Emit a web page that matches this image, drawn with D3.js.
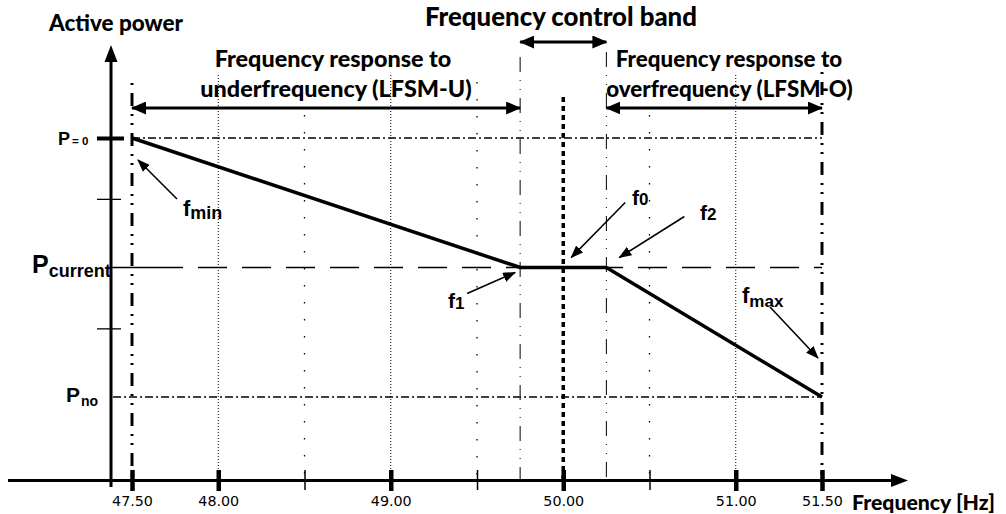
<!DOCTYPE html>
<html><head><meta charset="utf-8">
<script src="https://cdn.jsdelivr.net/npm/d3@7"></script>
<style>
html,body{margin:0;padding:0;background:#fff;}
svg{display:block;}
</style></head>
<body><svg id="chart" width="1006" height="514"></svg>
<script>
// ---------- data ----------
const freqMajor = [47.5, 48, 49, 50, 51, 51.5];
const freqMajorLabels = ["47.50", "48.00", "49.00", "50.00", "51.00", "51.50"];
const freqMinor = [48.5, 49.5, 50.5];
const freqDotted = [48, 49, 51];
const bandEdges = [49.75, 50.25];
const rangeEdges = [47.5, 51.5];
const nominalFreq = [50];
const curveFreq = [47.5, 49.75, 50.25, 51.5];
const curvePower = [2, 1, 1, 0];
const powerLevels = [2, 1, 0];          // P=0, Pcurrent, Pno
const powerMinor = [1.53, 0.53];
const pLabels = [["P", "= 0"], ["P", "current"], ["P", "no"]];

// ---------- layout ----------
const svg = d3.select("#chart");
const x = d3.scaleLinear().domain([47.5, 51.5]).range([132, 822]);
const y = d3.scaleLinear().domain([0, 2]).range([397, 138]);
const axisY = 480.5, yAxisX = 111;
const headFont = "Lato, 'Open Sans', sans-serif";
const armFont = "'Liberation Sans', Arial, sans-serif";
const narrowFont = "'Liberation Sans Narrow', 'Arial Narrow', 'Liberation Sans', sans-serif";

const defs = svg.append("defs");
defs.append("marker").attr("id", "big").attr("viewBox", "0 0 15 13")
  .attr("markerWidth", 15).attr("markerHeight", 13).attr("refX", 14).attr("refY", 6.5)
  .attr("markerUnits", "userSpaceOnUse").attr("orient", "auto-start-reverse")
  .append("path").attr("d", "M0,0L15,6.5L0,13Z").attr("fill", "#000");
defs.append("marker").attr("id", "small").attr("viewBox", "0 0 13 10")
  .attr("markerWidth", 13).attr("markerHeight", 10).attr("refX", 12).attr("refY", 5)
  .attr("markerUnits", "userSpaceOnUse").attr("orient", "auto")
  .append("path").attr("d", "M0,0L13,5L0,10Z").attr("fill", "#000");

// fit a group of header lines to their widths in the reference
function headBlock(lines) {
  const nodes = lines.map(l => svg.append("text").text(l.t).attr("x", l.x).attr("y", l.y)
    .attr("text-anchor", l.anchor || "start")
    .style("font-family", headFont).style("font-weight", 900).style("font-size", "20px"));
  let k = 0;
  nodes.forEach((n, i) => { k += lines[i].w / n.node().getComputedTextLength(); });
  k /= nodes.length;
  nodes.forEach(n => n.style("font-size", (20 * k) + "px"));
}
headBlock([{t: "Active power", x: 49, y: 31, w: 134}]);
headBlock([{t: "Frequency control band", x: 561, y: 26, w: 272, anchor: "middle"}]);
headBlock([
  {t: "Frequency response to", x: 333, y: 67, w: 232, anchor: "middle"},
  {t: "underfrequency (LFSM-U)", x: 336, y: 96.5, w: 277, anchor: "middle"}
]);
headBlock([
  {t: "Frequency response to", x: 729, y: 67, w: 228, anchor: "middle"},
  {t: "overfrequency (LFSM-O)", x: 729.5, y: 96.5, w: 245, anchor: "middle"}
]);
headBlock([{t: "Frequency [Hz]", x: 852, y: 510, w: 143}]);

// ---------- horizontal reference lines ----------
svg.append("line").attr("x1", x(47.5)).attr("x2", x(51.5)).attr("y1", y(2)).attr("y2", y(2))
  .attr("stroke", "#000").attr("stroke-width", 1.3).attr("stroke-dasharray", "8,3,2,3");
svg.append("line").attr("x1", yAxisX + 2).attr("x2", x(51.5)).attr("y1", y(0)).attr("y2", y(0))
  .attr("stroke", "#000").attr("stroke-width", 1.3).attr("stroke-dasharray", "8,3,2,3");
svg.append("line").attr("x1", yAxisX).attr("x2", 183).attr("y1", y(1)).attr("y2", y(1))
  .attr("stroke", "#000").attr("stroke-width", 1.5);
svg.append("line").attr("x1", 183).attr("x2", x(51.5)).attr("y1", y(1)).attr("y2", y(1))
  .attr("stroke", "#000").attr("stroke-width", 1.5)
  .attr("stroke-dasharray", "29,15").attr("stroke-dashoffset", 29);

// ---------- vertical lines ----------
svg.selectAll(".dotted").data(freqDotted).enter().append("line")
  .attr("x1", d => x(d)).attr("x2", d => x(d)).attr("y1", 75).attr("y2", axisY)
  .attr("stroke", "#000").attr("stroke-width", 1).attr("stroke-dasharray", "1,2");
svg.selectAll(".sparse").data(freqMinor).enter().append("line")
  .attr("x1", d => x(d)).attr("x2", d => x(d)).attr("y1", (d, i) => i === 1 ? 82 : 115).attr("y2", axisY)
  .attr("stroke", "#000").attr("stroke-width", 1.3).attr("stroke-dasharray", "1.5,15.5");
svg.selectAll(".band").data(bandEdges).enter().append("line")
  .attr("x1", d => x(d)).attr("x2", d => x(d)).attr("y1", (d, i) => i === 0 ? 57 : 52).attr("y2", axisY)
  .attr("stroke", "#000").attr("stroke-width", 1).attr("stroke-dasharray", "15,8,1,8,1,8");
svg.selectAll(".nominal").data(nominalFreq).enter().append("line")
  .attr("x1", d => x(d)).attr("x2", d => x(d)).attr("y1", 97).attr("y2", axisY)
  .attr("stroke", "#000").attr("stroke-width", 3.5).attr("stroke-dasharray", "5,4");
svg.selectAll(".edge").data(rangeEdges).enter().append("line")
  .attr("x1", d => x(d)).attr("x2", d => x(d)).attr("y1", (d, i) => i === 0 ? 83 : 72).attr("y2", axisY)
  .attr("stroke", "#000").attr("stroke-width", 3).attr("stroke-dasharray", "2,8,13,8,2,7");

// ---------- axes ----------
svg.append("line").attr("x1", 8).attr("x2", 895).attr("y1", axisY).attr("y2", axisY)
  .attr("stroke", "#000").attr("stroke-width", 3);
svg.append("path").attr("d", `M908,${axisY}L891,${axisY - 6.5}L891,${axisY + 6.5}Z`).attr("fill", "#000");
svg.append("line").attr("x1", yAxisX).attr("x2", yAxisX).attr("y1", 487).attr("y2", 58)
  .attr("stroke", "#000").attr("stroke-width", 3);
svg.append("path").attr("d", `M${yAxisX},45L${yAxisX - 6.5},62L${yAxisX + 6.5},62Z`).attr("fill", "#000");

const xMajor = d3.axisBottom(x).tickValues(freqMajor)
  .tickFormat((d, i) => freqMajorLabels[i]).tickSize(21).tickPadding(5);
const gx = svg.append("g").attr("transform", "translate(0,470)").call(xMajor);
gx.select(".domain").remove();
gx.selectAll(".tick line").attr("stroke", "#000").attr("stroke-width", 4.5);
const tickTexts = gx.selectAll(".tick text").attr("fill", "#000")
  .style("font-family", "'DejaVu Sans', Verdana, sans-serif").style("font-size", "14px");
const tw = tickTexts.node().getComputedTextLength();
tickTexts.style("font-size", (14 * 41 / tw) + "px");

const xMinorAxis = d3.axisBottom(x).tickValues(freqMinor).tickFormat("").tickSize(20);
const gxm = svg.append("g").attr("transform", "translate(0,470)").call(xMinorAxis);
gxm.select(".domain").remove();
gxm.selectAll(".tick line").attr("stroke", "#000").attr("stroke-width", 1.5);

const yMainAxis = d3.axisLeft(y).tickValues([2]).tickFormat("").tickSize(27);
const gy = svg.append("g").attr("transform", "translate(124,0)").call(yMainAxis);
gy.select(".domain").remove();
gy.selectAll(".tick line").attr("stroke", "#000").attr("stroke-width", 4);
const yMinorAxis = d3.axisLeft(y).tickValues(powerMinor).tickFormat("").tickSize(24);
const gym = svg.append("g").attr("transform", "translate(121,0)").call(yMinorAxis);
gym.select(".domain").remove();
gym.selectAll(".tick line").attr("stroke", "#000").attr("stroke-width", 1.3);

// ---------- power labels ----------
const pStyle = [
  {px: 58, base: 7, size: 18, subSize: 11.5, subDx: 2, subDy: 0},
  {px: 32, base: 5, size: 25, subSize: 18, subDx: 0, subDy: 4},
  {px: 66, base: 5, size: 21, subSize: 14, subDx: 1, subDy: 4}
];
powerLevels.forEach((v, i) => {
  const s = pStyle[i];
  const t = svg.append("text").attr("x", s.px).attr("y", y(v) + s.base)
    .style("font-family", armFont).style("font-weight", 700);
  t.append("tspan").text(pLabels[i][0]).style("font-size", s.size + "px");
  t.append("tspan").text(pLabels[i][1]).attr("dx", s.subDx).attr("dy", s.subDy)
    .style("font-size", s.subSize + "px");
});

// ---------- main characteristic ----------
const pts = curveFreq.map((f, i) => [x(f), y(curvePower[i])]);
svg.append("path").attr("d", d3.line()(pts)).attr("fill", "none")
  .attr("stroke", "#000").attr("stroke-width", 3.5).attr("stroke-linejoin", "miter");

// ---------- range arrows ----------
const rangeArrows = [
  {f1: 47.5, f2: 49.75, yy: 108},
  {f1: 50.25, f2: 51.5, yy: 108},
  {f1: 49.75, f2: 50.25, yy: 42}
];
rangeArrows.forEach(a => {
  svg.append("line").attr("x1", x(a.f1)).attr("x2", x(a.f2)).attr("y1", a.yy).attr("y2", a.yy)
    .attr("stroke", "#000").attr("stroke-width", 3)
    .attr("marker-start", "url(#big)").attr("marker-end", "url(#big)");
});

// ---------- point annotations ----------
const notes = [
  {f: "f", sub: "min", fx: 47.5, p: 2, tip: [6, 22], tail: [45, 61], lx: 183, ly: 216, fs: 22, ss: 18, sdy: 3},
  {f: "f", sub: "1", fx: 49.75, p: 1, tip: [-5, 5], tail: [-53, 26], lx: 448, ly: 308, fs: 21, ss: 17, sdy: 1},
  {f: "f", sub: "0", fx: 50, p: 1, tip: [8, -10], tail: [62, -65], lx: 632, ly: 205, fs: 21, ss: 17, sdy: 0},
  {f: "f", sub: "2", fx: 50.25, p: 1, tip: [13, -10], tail: [78, -51], lx: 700, ly: 220, fs: 21, ss: 17, sdy: 0},
  {f: "f", sub: "max", fx: 51.5, p: 0, tip: [-4, -39], tail: [-52, -90], lx: 742, ly: 303, fs: 22, ss: 17, sdy: 4}
];
notes.forEach(n => {
  const bx = x(n.fx), by = y(n.p);
  svg.append("line").attr("x1", bx + n.tail[0]).attr("y1", by + n.tail[1])
    .attr("x2", bx + n.tip[0]).attr("y2", by + n.tip[1])
    .attr("stroke", "#000").attr("stroke-width", 1.6).attr("marker-end", "url(#small)");
  const t = svg.append("text").attr("x", n.lx).attr("y", n.ly)
    .style("font-family", narrowFont).style("font-weight", 700);
  t.append("tspan").text(n.f).style("font-size", n.fs + "px");
  t.append("tspan").text(n.sub).attr("dy", n.sdy).style("font-size", n.ss + "px");
});
</script>
</body></html>
